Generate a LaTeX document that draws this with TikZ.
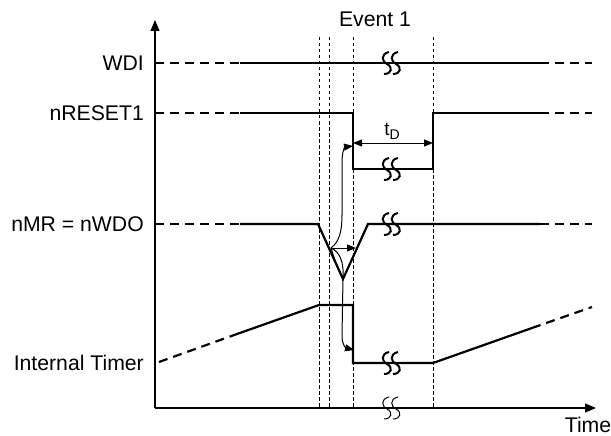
\documentclass[tikz,border=0pt]{standalone}
\usepackage{fontspec}
\setmainfont{Liberation Sans}
\usetikzlibrary{arrows.meta}
\begin{document}
\begin{tikzpicture}[x=1pt,y=-1pt,
  wave/.style={line width=2.2pt,line join=miter},
  wavedash/.style={line width=2.2pt,dash pattern=on 9pt off 6pt},
  guide/.style={line width=0.9pt,dash pattern=on 3.5pt off 2.5pt},
  axis/.style={line width=1.2pt,-{Triangle[length=11pt,width=9pt]}},
  thin/.style={line width=1pt},
  tip/.style={line width=1pt,-{Triangle[length=9pt,width=7pt]}},
  lbl/.style={inner sep=0pt,font=\fontsize{21.2}{24}\selectfont},
  brk/.pic={\draw[pic actions] (5,-11) .. controls (-4,-9) and (-2,-1) .. (3,1) .. controls (9,4) and (8,11) .. (0,11);
            \draw[pic actions] (14,-11) .. controls (5,-9) and (7,-1) .. (12,1) .. controls (18,4) and (17,11) .. (9,11);}
]
\useasboundingbox (0,0) rectangle (611,436);
% guides
\foreach \gx in {319,329,353,433}{\draw[guide] (\gx,37) -- (\gx,408);}
% axes
\coordinate (org) at (155,408);
\coordinate (ytip) at (155,20);
\coordinate (xtip) at (596,408);
\draw[axis] (org) -- (ytip);
\draw[axis] (org) -- (xtip);
% labels
\node[lbl,anchor=base east] (lwdi) at (144,70.5) {WDI};
\node[lbl,anchor=base east] (lrst) at (144,120.5) {nRESET1};
\node[lbl,anchor=base east] (lmr) at (144,231.5) {nMR = nWDO};
\node[lbl,anchor=base east] (ltim) at (144,370.5) {Internal Timer};
\node[lbl,anchor=base] (lev) at (375,27) {Event 1};
\node[lbl,anchor=base] (ltime) at (588,432) {Time};
% WDI
\draw[wavedash] (155,63) -- (240,63);
\draw[wave] (240,63) -- (540,63);
\draw[wavedash] (540,63) -- (592,63);
% nRESET1
\draw[wavedash] (155,113) -- (240,113);
\draw[wave] (240,113) -- (353,113) -- (353,169) -- (433,169) -- (433,113) -- (540,113);
\draw[wavedash] (540,113) -- (592,113);
% nMR
\draw[wavedash] (155,224) -- (240,224);
\draw[wave] (240,224) -- (318,224) -- (343,279) -- (368,224) -- (540,224);
\draw[wavedash] (540,224) -- (592,224);
% Internal timer
\draw[wavedash] (159,362) -- (237,334);
\draw[wave] (237,334) -- (319,305) -- (353,305) -- (353,363) -- (433,363) -- (532,328);
\draw[wavedash] (532,328) -- (592,307);
% breaks
\pic[line width=2pt] at (384,63) {brk};
\pic[line width=2pt] at (384,169) {brk};
\pic[line width=2pt] at (384,224) {brk};
\pic[line width=2pt] at (384,363) {brk};
\pic[line width=1pt] at (384,408) {brk};
% tD
\coordinate (tda) at (353,143);
\coordinate (tdb) at (433,143);
\draw[line width=1pt,{Triangle[length=9pt,width=7pt]}-{Triangle[length=9pt,width=7pt]}] (tda) -- (tdb);
\node[inner sep=0pt,anchor=base,font=\fontsize{19}{20}\selectfont] (ltd) at (392,135.5) {t\raisebox{-0.22em}{\fontsize{14}{14}\selectfont D}};
% causal arrows
\coordinate (fall) at (331,248);
\coordinate (vbot) at (343,279);
\coordinate (rstlow) at (353,146);
\coordinate (armr) at (356,248);
\coordinate (timlow) at (354,350);
\draw[tip] (fall) .. controls (339,242) and (342,232) .. (342,215) -- (342,162) .. controls (342,151) and (345,147) .. (rstlow);
\draw[tip] (fall) -- (armr);
\draw[thin] (fall) .. controls (340,252) and (344,262) .. (vbot);
\draw[thin] (fall) .. controls (334,258) and (338,270) .. (vbot);
\draw[tip] (vbot) -- (342,336) .. controls (342,345) and (346,348) .. (timlow);
\end{tikzpicture}
\end{document}
